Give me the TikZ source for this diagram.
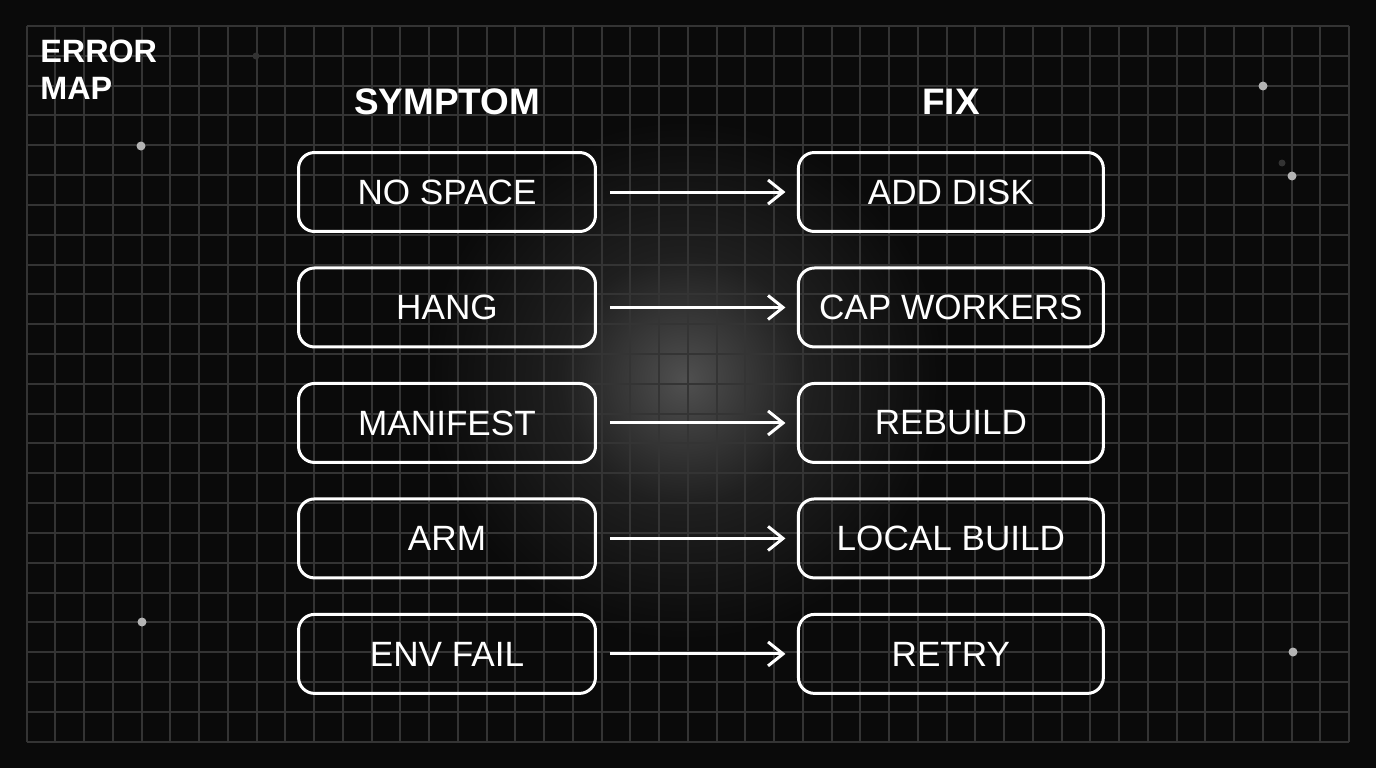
\documentclass[tikz,border=0pt]{standalone}
\usepackage{fontspec}
\setmainfont{Liberation Sans}
\usepackage{tikz}
\usetikzlibrary{arrows.meta,positioning}
\definecolor{bgcol}{HTML}{0A0A0A}
\definecolor{gridcol}{HTML}{343434}
\definecolor{glowcol}{HTML}{505050}
\definecolor{dotcol}{HTML}{B4B4B4}
\definecolor{dimdot}{HTML}{333333}
\pgfdeclareradialshading{glow}{\pgfpoint{0bp}{0bp}}{color(0bp)=(glowcol); color(5bp)=(glowcol!70!bgcol); color(12bp)=(glowcol!30!bgcol); color(25bp)=(bgcol); color(50bp)=(bgcol)}

\begin{document}
\begin{tikzpicture}[x=0.02cm,y=-0.02cm,node distance=0.67cm]
        \tikzstyle{symptom} = [draw=white, line width=0.06cm, rounded corners=0.32cm, minimum width=5.94cm, minimum height=1.58cm, inner sep=0pt, text=white, font=\fontsize{20}{24}\selectfont]
        \tikzstyle{fix} = [symptom, minimum width=6.1cm]
        \tikzstyle{head} = [text=white, inner sep=0pt, font=\fontsize{21}{25}\selectfont\bfseries]
        \tikzstyle{link} = [->, >={Straight Barb[length=0.3cm,width=0.48cm]}, draw=white, line width=0.06cm, shorten <=0.26cm, shorten >=0.23cm]

        % Background
        \useasboundingbox (0,0) rectangle (1376,768);
        \fill[bgcol] (0,0) rectangle (1376,768);
        \shade[shading=glow] (685,380) circle (5.2cm);
        \foreach \i in {0,...,46}
            \draw[gridcol, line width=0.04cm] ({round(26.7+\i*28.75)},26) -- ({round(26.7+\i*28.75)},742);
        \foreach \j in {0,...,24}
            \draw[gridcol, line width=0.04cm] (26.7,{round(26+\j*29.82)}) -- (1349.3,{round(26+\j*29.82)});
        \foreach \p in {(141,146),(142,622),(1263,86),(1292,176),(1293,652)}
            \fill[dotcol] \p circle (0.09cm);
        \foreach \p in {(256,56),(1282,163)}
            \fill[dimdot] \p circle (0.07cm);

        % Titles
        \node[head, align=left, anchor=north west, font=\fontsize{18.4}{21}\selectfont\bfseries] (title) at (40,40) {ERROR\\MAP};
        \node[head] (symhead) at (447,102) {SYMPTOM};
        \node[head] (fixhead) at (951,102) {FIX};

        % Nodes
        \node[symptom] (s1) at (447,192) {NO SPACE};
        \node[symptom, below=of s1] (s2) {HANG};
        \node[symptom, below=of s2] (s3) {MANIFEST};
        \node[symptom, below=of s3] (s4) {ARM};
        \node[symptom, below=of s4] (s5) {ENV FAIL};
        \node[fix, right=4cm of s1] (f1) {ADD DISK};
        \node[fix, right=4cm of s2] (f2) {CAP WORKERS};
        \node[fix, right=4cm of s3] (f3) {REBUILD};
        \node[fix, right=4cm of s4] (f4) {LOCAL BUILD};
        \node[fix, right=4cm of s5] (f5) {RETRY};

        % Edges
        \path (s1) edge[link] (f1);
        \path (s2) edge[link] (f2);
        \path (s3) edge[link] (f3);
        \path (s4) edge[link] (f4);
        \path (s5) edge[link] (f5);
    \end{tikzpicture}
\end{document}
